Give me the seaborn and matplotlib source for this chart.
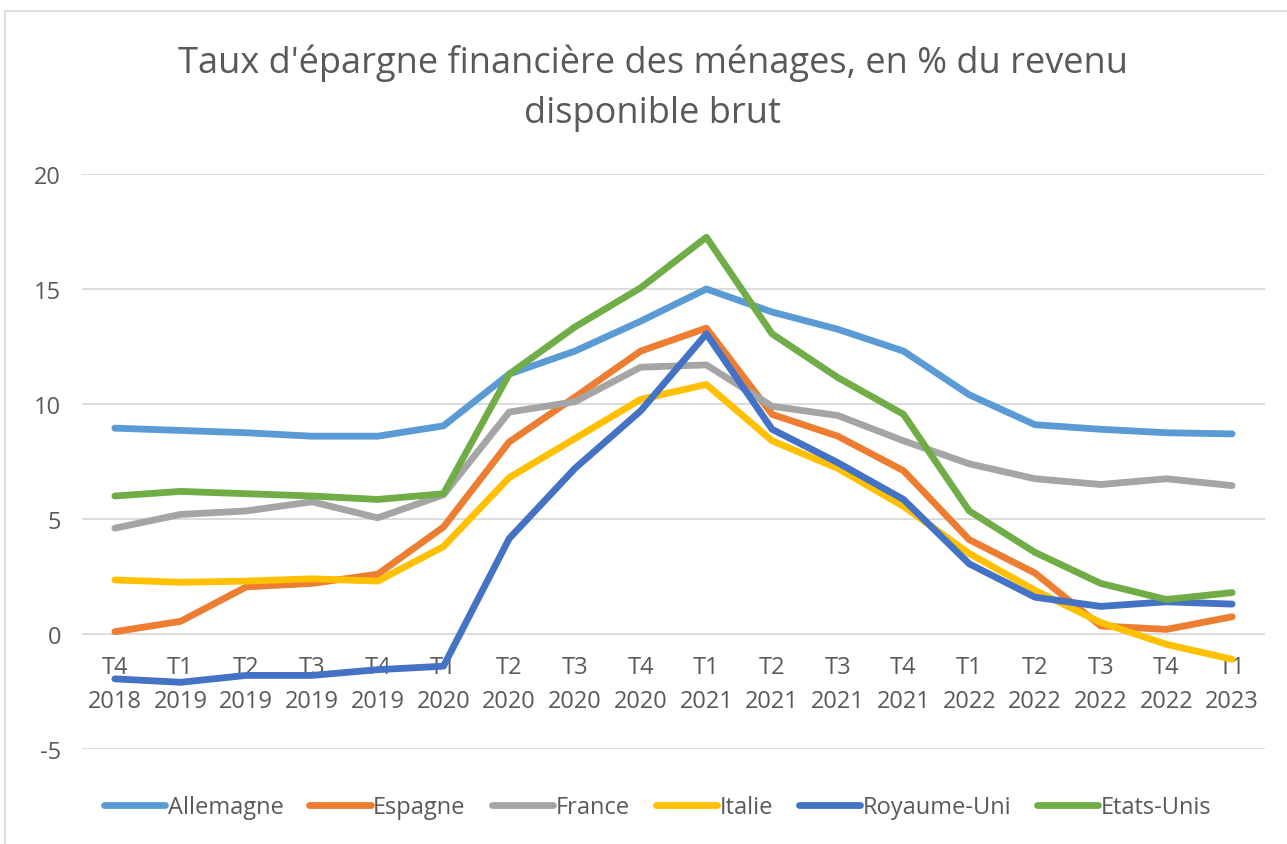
import matplotlib
matplotlib.use("Agg")
import matplotlib.pyplot as plt
import pandas as pd
import seaborn as sns
from matplotlib.patches import Rectangle

quarters = ["T4", "T1", "T2", "T3", "T4", "T1", "T2", "T3", "T4",
            "T1", "T2", "T3", "T4", "T1", "T2", "T3", "T4", "T1"]
years = ["2018", "2019", "2019", "2019", "2019", "2020", "2020", "2020", "2020",
         "2021", "2021", "2021", "2021", "2022", "2022", "2022", "2022", "2023"]

allemagne = [8.95, 8.85, 8.75, 8.6, 8.6, 9.05, 11.3, 12.3, 13.6, 15.0, 14.0, 13.25, 12.3, 10.4, 9.1, 8.9, 8.75, 8.7]
espagne = [0.1, 0.55, 2.05, 2.2, 2.6, 4.65, 8.35, 10.3, 12.3, 13.3, 9.55, 8.6, 7.1, 4.1, 2.65, 0.35, 0.2, 0.75]
france = [4.6, 5.2, 5.35, 5.75, 5.05, 6.05, 9.65, 10.1, 11.6, 11.7, 9.9, 9.5, 8.4, 7.4, 6.75, 6.5, 6.75, 6.45]
italie = [2.35, 2.25, 2.3, 2.4, 2.3, 3.8, 6.8, 8.5, 10.2, 10.85, 8.4, 7.2, 5.55, 3.5, 1.9, 0.5, -0.45, -1.1]
royaume_uni = [-1.95, -2.1, -1.8, -1.8, -1.55, -1.4, 4.15, 7.2, 9.7, 13.05, 8.9, 7.45, 5.85, 3.05, 1.6, 1.2, 1.4, 1.3]
etats_unis = [6.0, 6.2, 6.1, 6.0, 5.85, 6.1, 11.3, 13.35, 15.05, 17.25, 13.05, 11.15, 9.55, 5.35, 3.55, 2.2, 1.5, 1.8]

series = {"Allemagne": allemagne, "Espagne": espagne, "France": france,
          "Italie": italie, "Royaume-Uni": royaume_uni, "Etats-Unis": etats_unis}
colors = {"Allemagne": "#5B9BD5", "Espagne": "#ED7D31", "France": "#A5A5A5",
          "Italie": "#FFC000", "Royaume-Uni": "#4472C4", "Etats-Unis": "#70AD47"}

rows = []
for name, vals in series.items():
    for i, v in enumerate(vals):
        rows.append({"pos": i, "value": v, "pays": name})
df = pd.DataFrame(rows)

sns.set_style("white")
plt.rcParams["font.family"] = ["Open Sans", "DejaVu Sans"]
plt.rcParams["axes.unicode_minus"] = False
grey = "#595959"

fig = plt.figure(figsize=(12.87, 8.45), dpi=100)
ax = fig.add_axes([82 / 1287, 1 - 750 / 845, (1265 - 82) / 1287, (750 - 175) / 845])

fig.patches.append(Rectangle((5 / 1287, -0.1), 1.2, 1 - 12 / 845 + 0.1, transform=fig.transFigure,
                             fill=False, edgecolor="#D9D9D9", linewidth=1.2))

sns.lineplot(data=df, x="pos", y="value", hue="pays", palette=colors,
             linewidth=4.9, ax=ax, legend=False, sort=False)
for line in ax.get_lines():
    line.set_solid_capstyle("round")
    line.set_solid_joinstyle("round")

ax.set_xlim(-0.5, 17.5)
ax.set_ylim(-5, 20)
ax.set_yticks([-5, 0, 5, 10, 15, 20])
ax.yaxis.grid(True, color="#D9D9D9", linewidth=1.3, zorder=0)
ax.set_axisbelow(True)
for s in ["left", "right", "top"]:
    ax.spines[s].set_visible(False)
ax.spines["bottom"].set_position(("data", 0))
ax.spines["bottom"].set_visible(False)

ax.set_xticks(range(len(quarters)))
ax.set_xticklabels([q + "\n" + y for q, y in zip(quarters, years)], linespacing=1.55)
ax.tick_params(axis="x", length=0, pad=15, labelsize=17, labelcolor=grey)
ax.tick_params(axis="y", length=0, pad=15, labelsize=17, labelcolor=grey)
ax.set_xlabel("")
ax.set_ylabel("")

fig.text(0.507, 1 - 88 / 845, "Taux d'épargne financière des ménages, en % du revenu\ndisponible brut",
         ha="center", va="center", fontsize=26, color=grey, linespacing=1.5)

handles = [plt.Line2D([0], [0], color=colors[n], linewidth=4.9, solid_capstyle="round") for n in series]
fig.legend(handles, list(series.keys()), loc="center", bbox_to_anchor=(0.511, 1 - 808 / 845),
           ncol=6, frameon=False, fontsize=17, labelcolor=grey, handlelength=2.6,
           handletextpad=0.1, columnspacing=1.1)

fig.savefig("out.png", dpi=100)
